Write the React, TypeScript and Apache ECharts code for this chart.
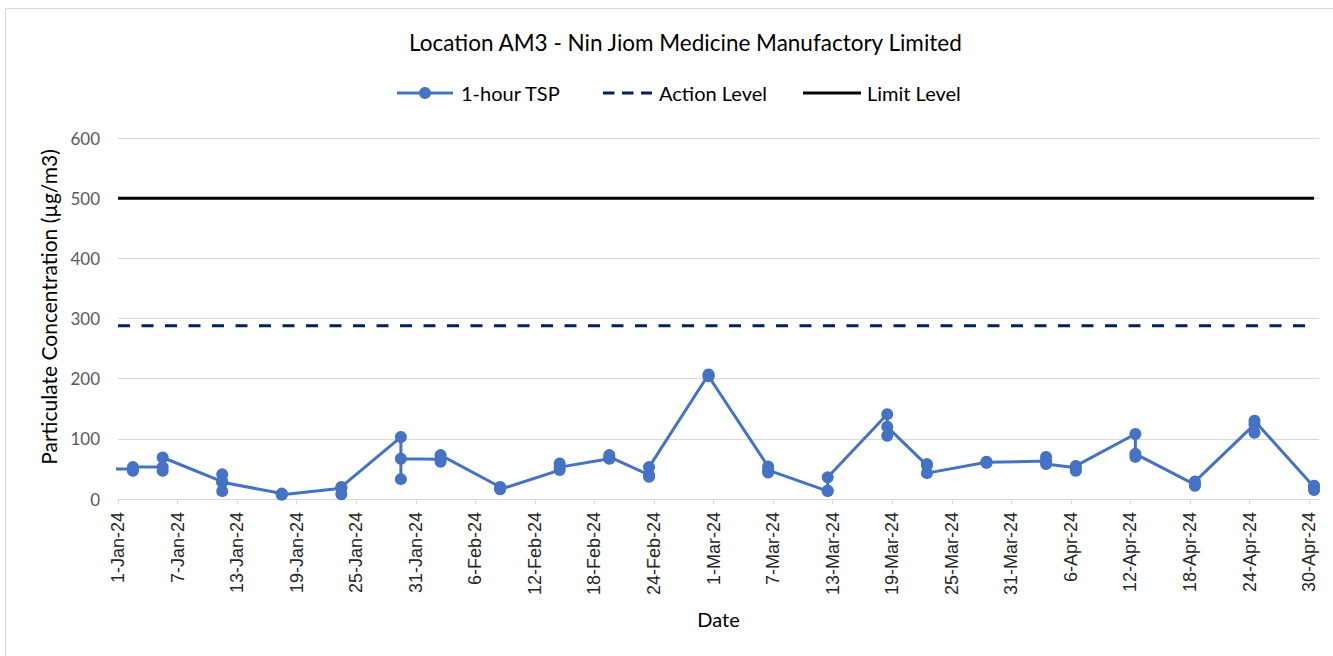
import React, { useEffect, useRef } from "react";
import * as echarts from "echarts";

const chartTitle = "Location AM3 - Nin Jiom Medicine Manufactory Limited";
const seriesNames = ["1-hour TSP", "Action Level", "Limit Level"];
const xAxisTitle = "Date";
const yAxisTitle = "Particulate Concentration (µg/m3)";

// Sampling dates (first entry is before the axis range and gets clipped)
const sampleDates = [
  "2023-12-30", "2024-01-02", "2024-01-05", "2024-01-11", "2024-01-17", "2024-01-23",
  "2024-01-29", "2024-02-02", "2024-02-08", "2024-02-14", "2024-02-19", "2024-02-23",
  "2024-02-29", "2024-03-06", "2024-03-12", "2024-03-18", "2024-03-22", "2024-03-28",
  "2024-04-03", "2024-04-06", "2024-04-12", "2024-04-18", "2024-04-24", "2024-04-30",
];
// 1-hour TSP readings per sampling date (µg/m3)
const tspReadings = [
  [50], [50, 47, 53], [53, 47, 69], [29, 41, 13, 28], [9, 7, 8], [18, 8, 20],
  [103, 33, 67], [66, 62, 73], [20, 16, 17], [48, 59, 53], [67, 73, 70], [40, 37, 53],
  [207, 204, 205], [54, 44, 48], [13, 14, 36], [141, 105, 120], [56, 58, 43], [61, 60, 62],
  [63, 70, 58], [52, 47, 55], [108, 70, 75], [24, 22, 29], [124, 110, 130], [20, 15, 22],
];
const actionLevel = 288;
const limitLevel = 500;

const axisStart = "2024-01-01";
const axisEnd = "2024-05-01";
const tickStepDays = 6;
const xTickLabels = [
  "1-Jan-24", "7-Jan-24", "13-Jan-24", "19-Jan-24", "25-Jan-24", "31-Jan-24", "6-Feb-24",
  "12-Feb-24", "18-Feb-24", "24-Feb-24", "1-Mar-24", "7-Mar-24", "13-Mar-24", "19-Mar-24",
  "25-Mar-24", "31-Mar-24", "6-Apr-24", "12-Apr-24", "18-Apr-24", "24-Apr-24", "30-Apr-24",
];
const yTicks = [0, 100, 200, 300, 400, 500, 600];

const DAY = 86400000;
const toUtc = (s: string) => {
  const [y, m, d] = s.split("-").map(Number);
  return Date.UTC(y, m - 1, d);
};
const dayIndex = (s: string) => Math.round((toUtc(s) - toUtc(axisStart)) / DAY);

const TSP_COLOR = "#4472C4";
const ACTION_COLOR = "#002060";
const LIMIT_COLOR = "#000000";

export default function App() {
  const ref = useRef<HTMLDivElement>(null);
  useEffect(() => {
    if (!ref.current) return;
    const chart = echarts.init(ref.current, null, { renderer: "svg" });
    const maxDay = dayIndex(axisEnd);
    const tspData: number[][] = [];
    sampleDates.forEach((d, i) => {
      const x = dayIndex(d) + 0.5; // points sit in the middle of each date band
      tspReadings[i].forEach((v) => tspData.push([x, v]));
    });
    const lastDay = dayIndex("2024-04-30") + 0.5;
    const tickValues = xTickLabels.map((_, i) => i * tickStepDays);
    const font = "Lato, 'Open Sans', sans-serif";
    const legendY = 93;
    const legendFont = { fontFamily: font, fontSize: 20, fill: "#000" };

    chart.setOption({
      animation: false,
      textStyle: { fontFamily: font },
      title: {
        text: chartTitle,
        left: 404,
        top: 26,
        textStyle: { fontFamily: font, fontSize: 22.5, fontWeight: "normal", color: "#000" },
      },
      legend: { show: false, data: seriesNames },
      graphic: [
        {
          type: "rect",
          shape: { x: 5.5, y: 8.5, width: 1400, height: 700 },
          style: { fill: "none", stroke: "#d9d9d9", lineWidth: 1 },
          silent: true,
        },
        // legend: 1-hour TSP
        {
          type: "line",
          shape: { x1: 397, y1: legendY, x2: 453, y2: legendY },
          style: { stroke: TSP_COLOR, lineWidth: 3 },
        },
        { type: "circle", shape: { cx: 425, cy: legendY, r: 6 }, style: { fill: TSP_COLOR } },
        {
          type: "text",
          x: 461,
          y: legendY,
          style: { text: seriesNames[0], ...legendFont, verticalAlign: "middle", align: "left" },
        },
        // legend: Action Level
        {
          type: "line",
          shape: { x1: 603, y1: legendY, x2: 652, y2: legendY },
          style: { stroke: ACTION_COLOR, lineWidth: 3, lineDash: [11.5, 7.5] },
        },
        {
          type: "text",
          x: 659,
          y: legendY,
          style: { text: seriesNames[1], ...legendFont, verticalAlign: "middle", align: "left" },
        },
        // legend: Limit Level
        {
          type: "line",
          shape: { x1: 803, y1: legendY, x2: 861, y2: legendY },
          style: { stroke: LIMIT_COLOR, lineWidth: 3 },
        },
        {
          type: "text",
          x: 867,
          y: legendY,
          style: { text: seriesNames[2], ...legendFont, verticalAlign: "middle", align: "left" },
        },
        // y axis title
        {
          type: "text",
          x: 48,
          y: 307,
          rotation: Math.PI / 2,
          style: {
            text: yAxisTitle,
            fontFamily: font,
            fontSize: 21,
            fill: "#000",
            align: "center",
            verticalAlign: "middle",
          },
        },
      ],
      grid: { left: 118, right: 14, top: 138, bottom: 157, containLabel: false },
      xAxis: {
        type: "value",
        min: 0,
        max: maxDay,
        name: xAxisTitle,
        nameLocation: "middle",
        nameGap: 110,
        nameTextStyle: { fontFamily: font, fontSize: 20, color: "#000", padding: [0, 0, 0, 0] },
        splitLine: { show: false },
        axisLine: { show: true, lineStyle: { color: "#d9d9d9", width: 1 } },
        axisTick: {
          show: true,
          length: 5,
          customValues: tickValues,
          lineStyle: { color: "#d9d9d9" },
        },
        axisLabel: {
          customValues: tickValues,
          rotate: 90,
          margin: 13,
          fontSize: 18,
          color: "#262626",
          fontFamily: "'Liberation Sans', Arial, sans-serif",
          formatter: (v: number) => xTickLabels[Math.round(v / tickStepDays)] ?? "",
        },
      },
      yAxis: {
        type: "value",
        min: yTicks[0],
        max: yTicks[yTicks.length - 1],
        interval: 100,
        axisLine: { show: false },
        axisTick: { show: false },
        splitLine: { lineStyle: { color: "#d9d9d9", width: 1 } },
        axisLabel: { fontSize: 17, color: "#595959", margin: 18, fontFamily: font },
      },
      series: [
        {
          name: seriesNames[0],
          type: "line",
          data: tspData,
          clip: true,
          symbol: "circle",
          symbolSize: 12,
          showAllSymbol: true,
          itemStyle: { color: TSP_COLOR },
          lineStyle: { color: TSP_COLOR, width: 3 },
          z: 5,
        },
        {
          name: seriesNames[1],
          type: "line",
          data: [[0, actionLevel], [lastDay, actionLevel]],
          symbol: "none",
          itemStyle: { color: ACTION_COLOR },
          lineStyle: { color: ACTION_COLOR, width: 3, type: [12, 11.5] },
          z: 3,
        },
        {
          name: seriesNames[2],
          type: "line",
          data: [[0, limitLevel], [lastDay, limitLevel]],
          symbol: "none",
          itemStyle: { color: LIMIT_COLOR },
          lineStyle: { color: LIMIT_COLOR, width: 3 },
          z: 3,
        },
      ],
    });
    return () => chart.dispose();
  }, []);
  return (
    <div
      ref={ref}
      style={{ position: "absolute", left: 0, top: 0, width: 1333, height: 656, background: "#fff" }}
    />
  );
}
